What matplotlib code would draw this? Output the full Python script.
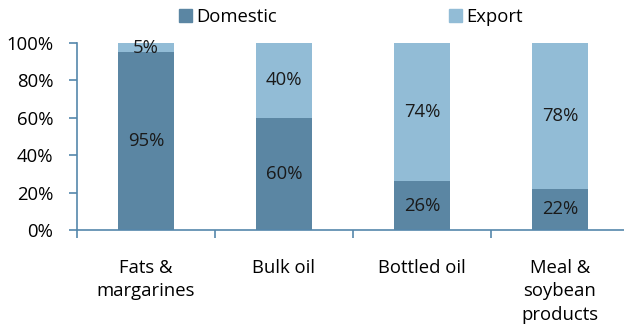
import matplotlib
matplotlib.use("Agg")
import matplotlib.pyplot as plt
from matplotlib.patches import Patch
import numpy as np

categories = ["Fats &\nmargarines", "Bulk oil", "Bottled oil", "Meal &\nsoybean\nproducts"]
domestic = [95, 60, 26, 22]
export = [5, 40, 74, 78]
yticks = [0, 20, 40, 60, 80, 100]

c_dom = "#5b86a3"
c_exp = "#92bcd6"
axis_c = "#5587ab"
fs = 13.3

plt.rcParams['font.family'] = ['Open Sans', 'DejaVu Sans']
fig = plt.figure(figsize=(6.24, 3.31), dpi=100)
ax = fig.add_axes([77/624, 1-230/331, 552/624, 187/331])

x = np.arange(len(categories))
ax.bar(x, domestic, width=0.4, color=c_dom, label="Domestic")
ax.bar(x, export, width=0.4, bottom=domestic, color=c_exp, label="Export")

for i in range(len(categories)):
    ax.text(x[i], domestic[i]/2, f"{domestic[i]}%", ha="center", va="center", fontsize=fs, color="#1a1a1a")
    ax.text(x[i], domestic[i] + export[i]/2, f"{export[i]}%", ha="center", va="center", fontsize=fs, color="#1a1a1a")

ax.set_xlim(-0.5, len(categories)-0.5)
ax.set_ylim(0, 100)
ax.set_yticks(yticks)
ax.set_yticklabels([f"{v}%" for v in yticks], fontsize=fs)
ax.set_xticks(x)
ax.set_xticklabels(categories, fontsize=fs, linespacing=1.38, va="top")
ax.tick_params(axis="x", length=0, pad=21)
ax.set_xticks(np.arange(len(categories)+1) - 0.5, minor=True)
ax.tick_params(axis="x", which="minor", length=6, color=axis_c, width=1.2, direction="out")
ax.tick_params(axis="y", length=6, color=axis_c, width=1.2, direction="out", pad=11)

for s in ["top", "right"]:
    ax.spines[s].set_visible(False)
for s in ["left", "bottom"]:
    ax.spines[s].set_color(axis_c)
    ax.spines[s].set_linewidth(1.2)

h = [Patch(color=c_dom), Patch(color=c_exp)]
names = ["Domestic", "Export"]
xs = [166, 436]
for hh, nm, xx in zip(h, names, xs):
    fig.legend([hh], [nm], loc="upper left", bbox_to_anchor=(xx/624, 1.0+5/331), frameon=False,
               fontsize=fs, handlelength=0.7, handleheight=0.7, handletextpad=0.25,
               borderaxespad=0.3)

fig.savefig("out.png", dpi=100)
